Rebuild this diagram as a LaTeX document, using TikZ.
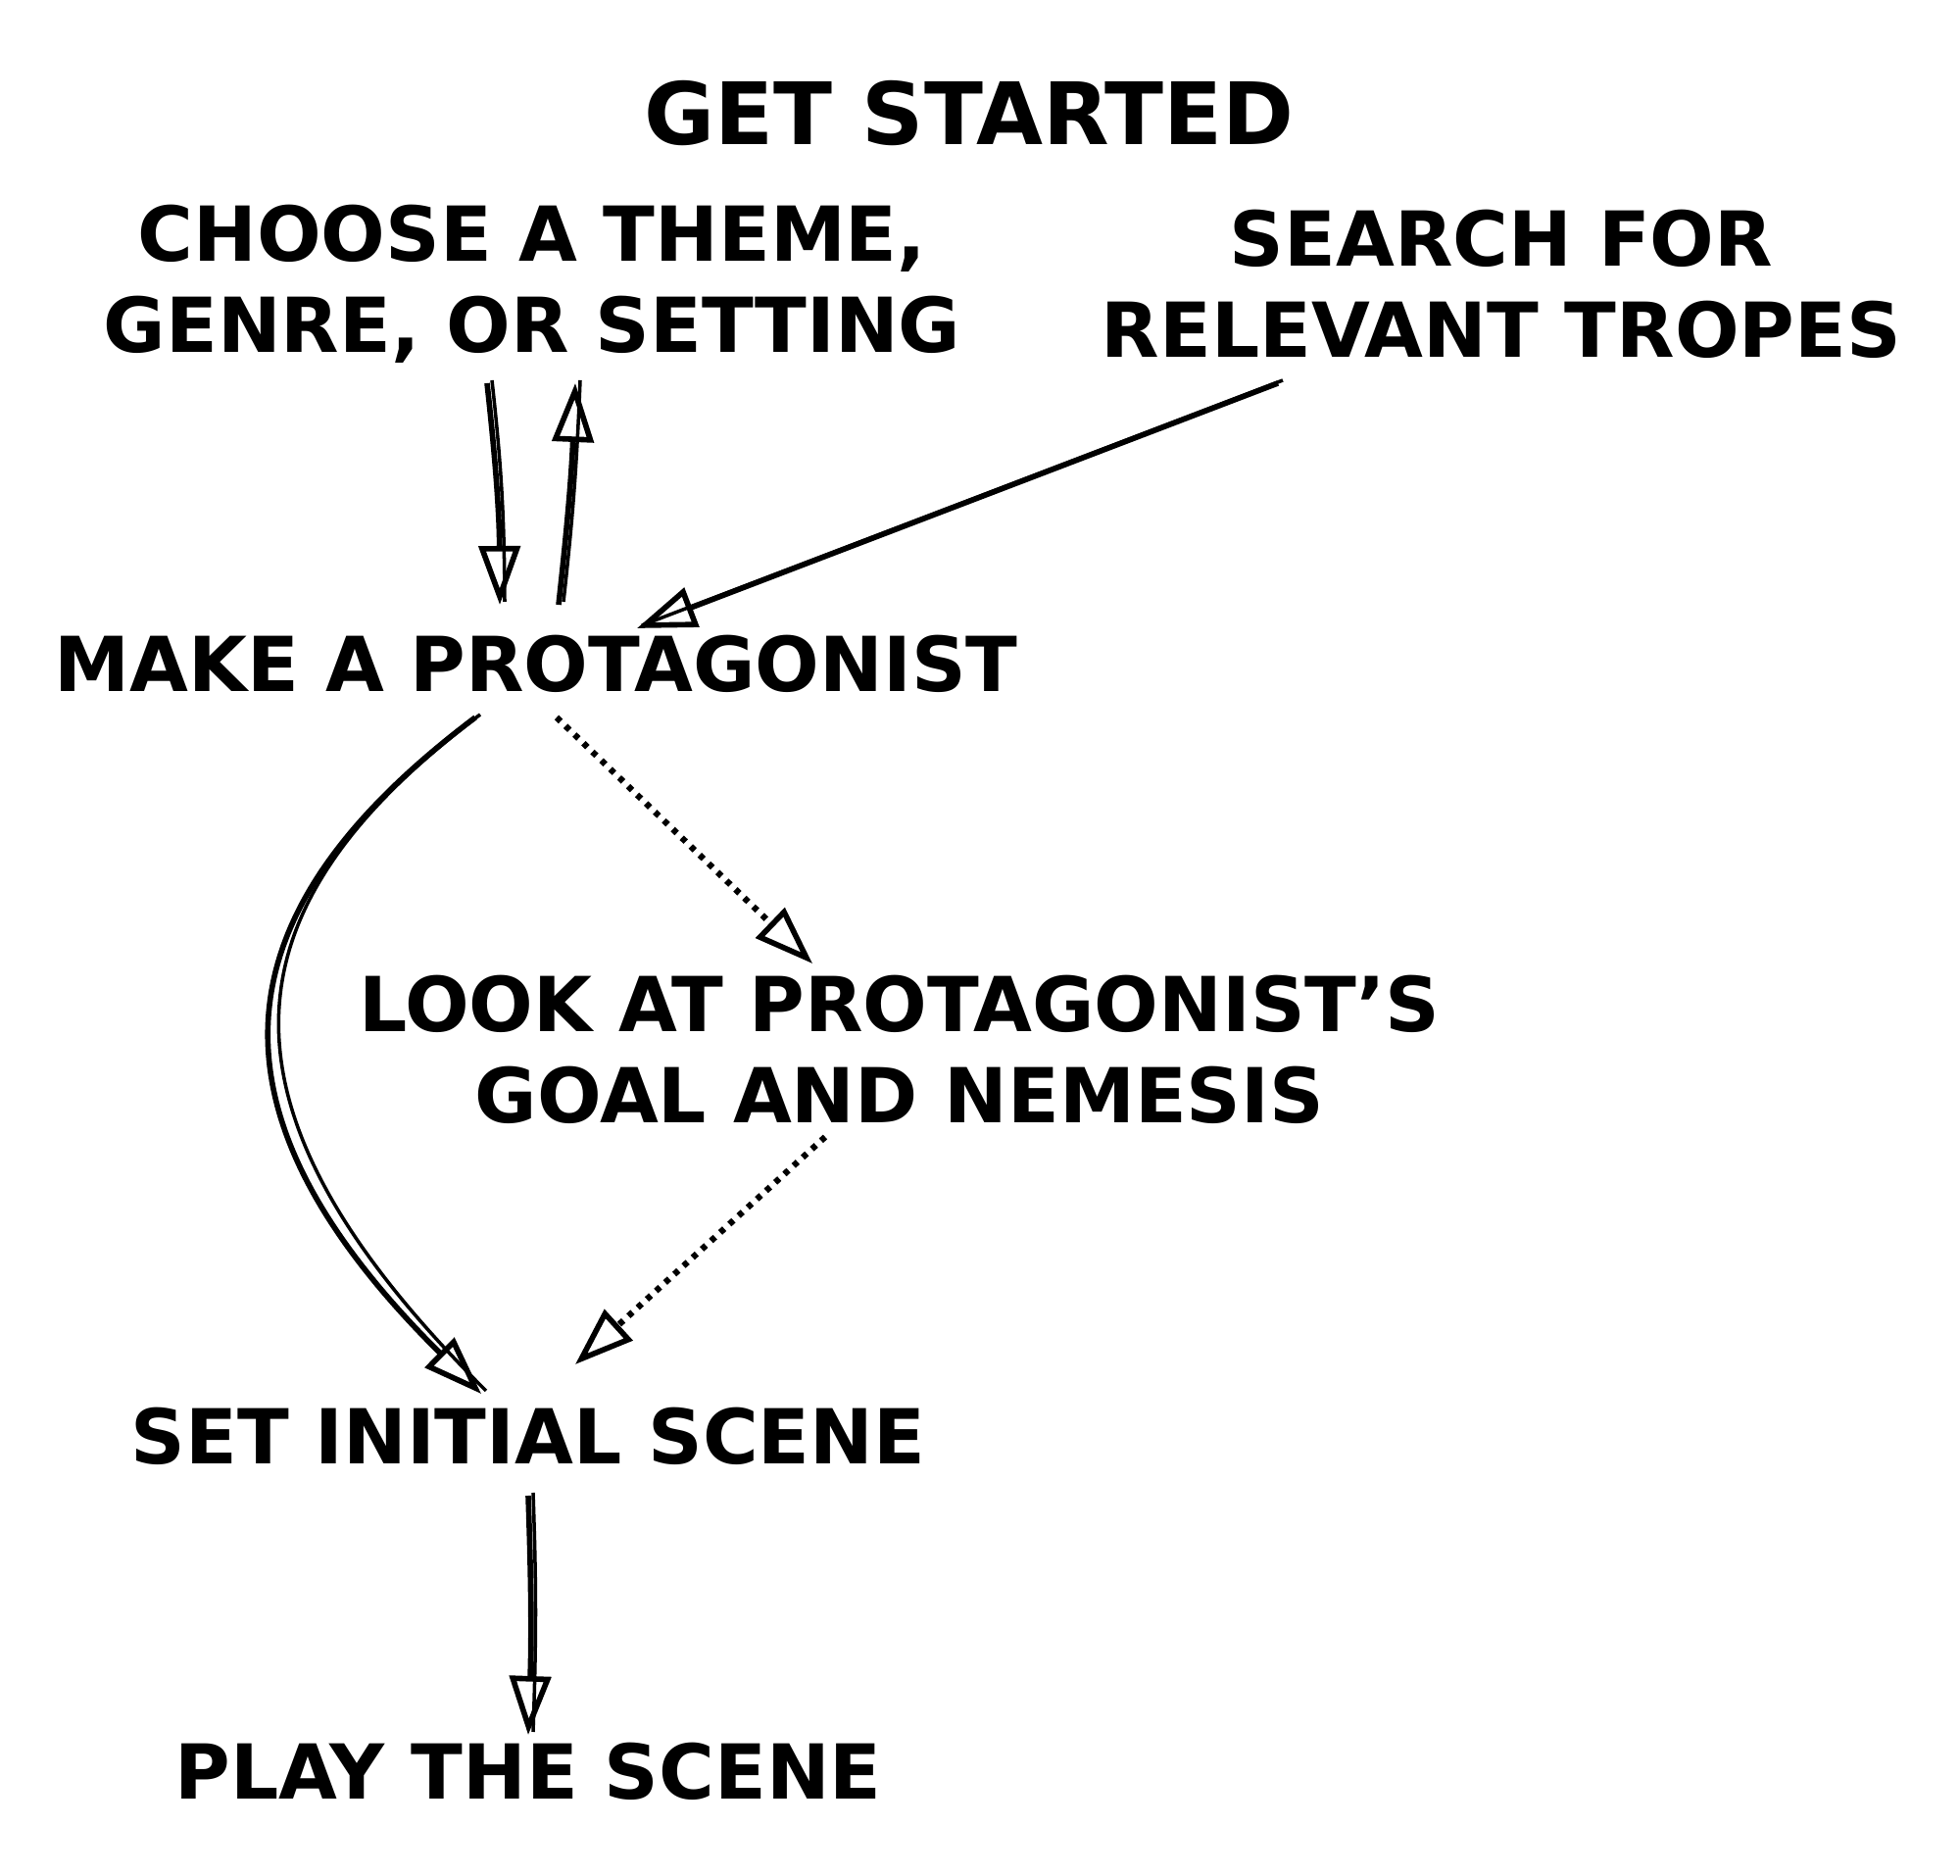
\documentclass[tikz,border=0pt]{standalone}
\usepackage{fontspec}
\setmainfont{DejaVu Sans}
\usetikzlibrary{arrows.meta}

\tikzset{%
  step text/.style={font=\fontsize{22}{26.5}\selectfont\bfseries, align=center, inner sep=0pt},
  title text/.style={step text, font=\fontsize{25}{30}\selectfont\bfseries},
  line/.style={draw, line width=1.6pt, color=black, -{Triangle[open, length=0.6cm, width=0.42cm, line width=1.6pt]}},
  sketch/.style={preaction={draw, line width=1pt, -, transform canvas={shift={(0.05,0.03)}}}},
  linedot/.style={line, dotted, line width=1.8pt},
}

\begin{document}
\begin{tikzpicture}
\useasboundingbox (0,0) rectangle (20,19.14);
\node [title text] (start) at (9.89,17.98) {GET STARTED};
\node [step text] (choose) at (5.43,16.24) {CHOOSE A THEME,\\GENRE, OR SETTING};
\node [step text] (search) at (15.32,16.24) {SEARCH FOR\\RELEVANT TROPES};
\node [step text] (make) at (5.47,12.37) {MAKE A PROTAGONIST};
\node [step text] (look) at (9.18,8.43) {LOOK AT PROTAGONIST'S\\GOAL AND NEMESIS};
\node [step text] (set) at (5.39,4.49) {SET INITIAL SCENE};
\node [step text] (play) at (5.39,1.07) {PLAY THE SCENE};

% theme <-> protagonist
\draw [line, sketch] ([xshift=-0.46cm,yshift=-1.01cm]choose.center) to[bend left=3] ([xshift=-0.37cm,yshift=0.6cm]make.center);
\draw [line, sketch] ([xshift=0.23cm,yshift=0.6cm]make.center) to[bend right=2] ([xshift=0.44cm,yshift=-1.01cm]choose.center);
\draw [line, sketch] ([xshift=-2.28cm,yshift=-1.01cm]search.center) -- ([xshift=1.03cm,yshift=0.36cm]make.center);
% protagonist -> scene
\draw [line, sketch] ([xshift=-0.62cm,yshift=-0.55cm]make.center) .. controls (2.3,9.9) and (1.9,7.9) .. ([xshift=-0.48cm,yshift=0.43cm]set.center);
\draw [linedot] ([xshift=0.21cm,yshift=-0.55cm]make.center) -- ([xshift=-0.89cm,yshift=0.88cm]look.center);
\draw [linedot] ([xshift=-0.76cm,yshift=-0.89cm]look.center) -- ([xshift=0.48cm,yshift=0.73cm]set.center);
\draw [line, sketch] ([yshift=-0.61cm]set.center) to[bend left=2] ([yshift=0.37cm]play.center);
\end{tikzpicture}
\end{document}
